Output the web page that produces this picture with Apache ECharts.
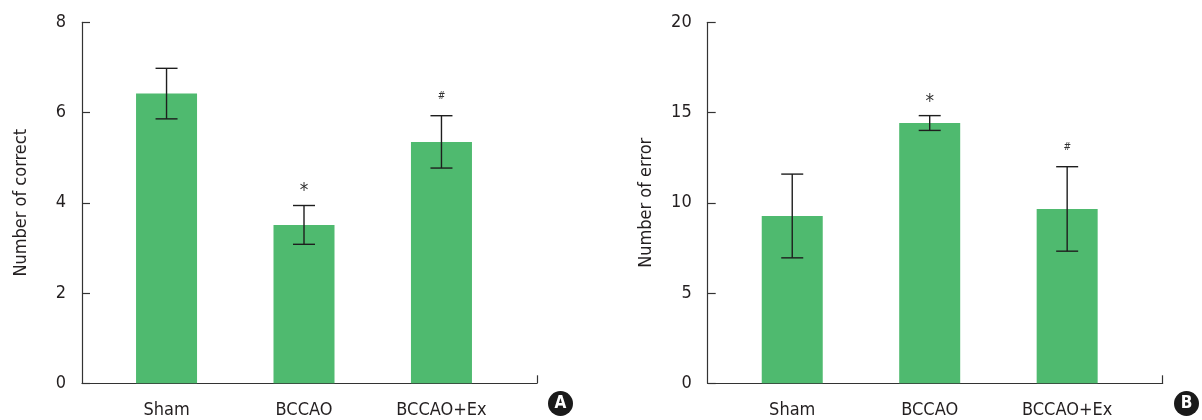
<!DOCTYPE html>
<html><head><meta charset="utf-8">
<script src="https://cdn.jsdelivr.net/npm/echarts@6/dist/echarts.min.js"></script>
<style>html,body{margin:0;padding:0;background:#fff}#c{width:1202px;height:420px}</style>
</head><body><div id="c"></div>
<script>
const categories = ['Sham', 'BCCAO', 'BCCAO+Ex'];
const correctMean = [6.42, 3.51, 5.35];
const correctErr = [0.56, 0.43, 0.58];
const errorMean = [9.27, 14.42, 9.66];
const errorErr = [2.32, 0.41, 2.34];
const marks = ['', '*', '#'];
const correctTicks = [0, 2, 4, 6, 8];
const errorTicks = [0, 5, 10, 15, 20];

const FONT = "'Liberation Sans Narrow','DejaVu Sans Condensed','Roboto',sans-serif";
const TXT = '#231f20';
const AX = '#333333';
const GREEN = '#4fba6f';
const XMIN = -0.615, XMAX = 2.695;

function errRender(labels) {
  return function (params, api) {
    const x = api.value(0), m = api.value(1), e = api.value(2);
    const top = api.coord([x, m + e]);
    const bot = api.coord([x, m - e]);
    const hw = 11;
    const st = { stroke: '#1e1e1e', lineWidth: 1.4 };
    const ch = [
      { type: 'line', shape: { x1: top[0], y1: top[1], x2: bot[0], y2: bot[1] }, style: st },
      { type: 'line', shape: { x1: top[0] - hw, y1: top[1], x2: top[0] + hw, y2: top[1] }, style: st },
      { type: 'line', shape: { x1: bot[0] - hw, y1: bot[1], x2: bot[0] + hw, y2: bot[1] }, style: st }
    ];
    const lab = labels[params.dataIndex];
    if (lab) {
      const star = lab === '*';
      ch.push({ type: 'text', x: top[0], y: top[1] - (star ? 14 : 19), style: {
        text: lab, align: 'center', verticalAlign: 'middle', fill: '#333',
        font: (star ? '' : 'italic ') + (star ? '19px ' : '10px ') + FONT } });
    }
    return { type: 'group', children: ch };
  };
}

function xAxisFor(gi) {
  return {
    gridIndex: gi, type: 'value', min: XMIN, max: XMAX,
    splitLine: { show: false },
    axisLine: { show: true, onZero: false, lineStyle: { color: AX, width: 1.2 } },
    axisTick: { show: true, inside: true, length: 8, customValues: [XMAX], lineStyle: { color: AX, width: 1.2 } },
    axisLabel: { show: true, customValues: [0, 1, 2], formatter: v => categories[Math.round(v)],
      margin: 18, fontSize: 18, fontFamily: FONT, color: TXT }
  };
}
function yAxisFor(gi, ticks, name) {
  return {
    gridIndex: gi, type: 'value', min: ticks[0], max: ticks[ticks.length - 1], interval: ticks[1] - ticks[0],
    name: name, nameLocation: 'middle', nameGap: 52,
    nameTextStyle: { fontSize: 18, fontFamily: FONT, color: TXT },
    splitLine: { show: false },
    axisLine: { show: true, onZero: false, lineStyle: { color: AX, width: 1.2 } },
    axisTick: { show: true, inside: true, length: 8, lineStyle: { color: AX, width: 1.2 } },
    axisLabel: { margin: 16, fontSize: 18, fontFamily: FONT, color: TXT }
  };
}

const chart = echarts.init(document.getElementById('c'), null, { renderer: 'canvas' });
chart.setOption({
  backgroundColor: '#fff',
  animation: false,
  grid: [
    { left: 82, right: 665, top: 22.3, bottom: 36.7 },
    { left: 707.7, right: 39.3, top: 22.3, bottom: 36.7 }
  ],
  xAxis: [xAxisFor(0), xAxisFor(1)],
  yAxis: [yAxisFor(0, correctTicks, 'Number of correct'), yAxisFor(1, errorTicks, 'Number of error')],
  series: [
    { type: 'bar', xAxisIndex: 0, yAxisIndex: 0, barWidth: 61, itemStyle: { color: GREEN },
      data: correctMean.map((v, i) => [i, v]) },
    { type: 'custom', xAxisIndex: 0, yAxisIndex: 0, z: 5, renderItem: errRender(marks),
      data: correctMean.map((v, i) => [i, v, correctErr[i]]) },
    { type: 'bar', xAxisIndex: 1, yAxisIndex: 1, barWidth: 61, itemStyle: { color: GREEN },
      data: errorMean.map((v, i) => [i, v]) },
    { type: 'custom', xAxisIndex: 1, yAxisIndex: 1, z: 5, renderItem: errRender(marks),
      data: errorMean.map((v, i) => [i, v, errorErr[i]]) }
  ],
  graphic: [
    { type: 'group', left: 548, top: 391, children: [
      { type: 'circle', shape: { cx: 12.5, cy: 12.5, r: 12.5 }, style: { fill: '#1a1a1a' } },
      { type: 'text', x: 12.5, y: 13, style: { text: 'A', align: 'center', verticalAlign: 'middle', fill: '#fff', font: 'bold 17px ' + FONT } }
    ] },
    { type: 'group', left: 1174, top: 391, children: [
      { type: 'circle', shape: { cx: 12.5, cy: 12.5, r: 12.5 }, style: { fill: '#1a1a1a' } },
      { type: 'text', x: 12.5, y: 13, style: { text: 'B', align: 'center', verticalAlign: 'middle', fill: '#fff', font: 'bold 17px ' + FONT } }
    ] }
  ]
});
</script></body></html>
